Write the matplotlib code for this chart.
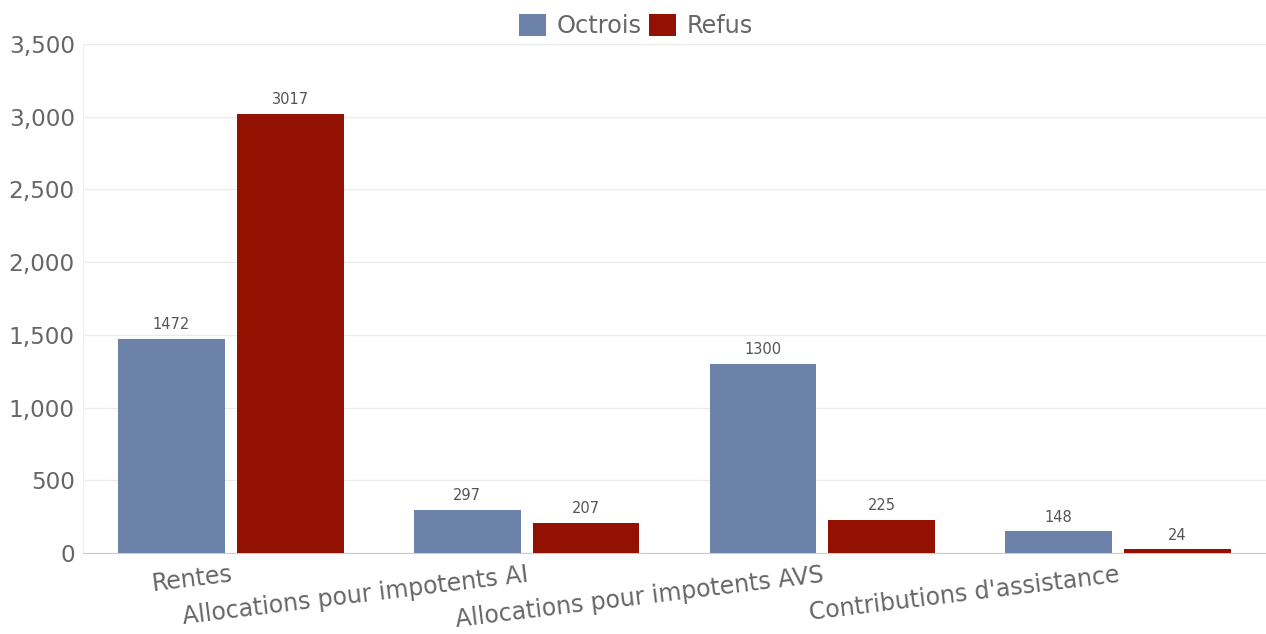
import matplotlib
matplotlib.use("Agg")
import matplotlib.pyplot as plt
import numpy as np

categories = ["Rentes", "Allocations pour impotents AI", "Allocations pour impotents AVS", "Contributions d'assistance"]
octrois = [1472, 297, 1300, 148]
refus = [3017, 207, 225, 24]
series_names = ["Octrois", "Refus"]
colors = ["#6d82a8", "#931100"]

fig = plt.figure(figsize=(12.66, 6.34), dpi=100)
ax = fig.add_axes([0.0656, 0.1278, 0.9344, 0.8028])

x = np.arange(len(categories))
w = 0.361
off = 0.201
b1 = ax.bar(x - off, octrois, w, color=colors[0], label=series_names[0], zorder=3)
b2 = ax.bar(x + off, refus, w, color=colors[1], label=series_names[1], zorder=3)

for bars, vals in ((b1, octrois), (b2, refus)):
    for r, v in zip(bars, vals):
        ax.annotate(str(v), (r.get_x() + r.get_width() / 2, v), xytext=(0, 5),
                    textcoords="offset points", ha="center", va="bottom",
                    fontsize=10.5, color="#555555")

ax.set_xlim(-0.5, 3.5)
ax.set_ylim(0, 3500)
ax.set_yticks(np.arange(0, 3501, 500))
ax.set_yticklabels([f"{v:,}" for v in range(0, 3501, 500)])
ax.set_xticks(x)
ax.set_xticklabels(categories, rotation=7, ha="right", rotation_mode="anchor")
ax.tick_params(axis="x", labelsize=17, colors="#666666", length=0, pad=7)
ax.tick_params(axis="y", labelsize=16.7, colors="#666666", length=0, pad=6)
ax.grid(axis="y", color="#ebebeb", linewidth=1, zorder=0)
for s in ("top", "right"):
    ax.spines[s].set_visible(False)
ax.spines["left"].set_color("#f0f0f0")
ax.spines["bottom"].set_color("#cccccc")

leg = fig.legend(loc="center", bbox_to_anchor=(636 / 1266, 1 - 26 / 634), ncol=2, frameon=False,
                 fontsize=17.3, handlelength=1.12, handleheight=1.0, columnspacing=0.3,
                 handletextpad=0.46, borderaxespad=0, borderpad=0)
for t in leg.get_texts():
    t.set_color("#666666")

fig.savefig("out.png", dpi=100)
